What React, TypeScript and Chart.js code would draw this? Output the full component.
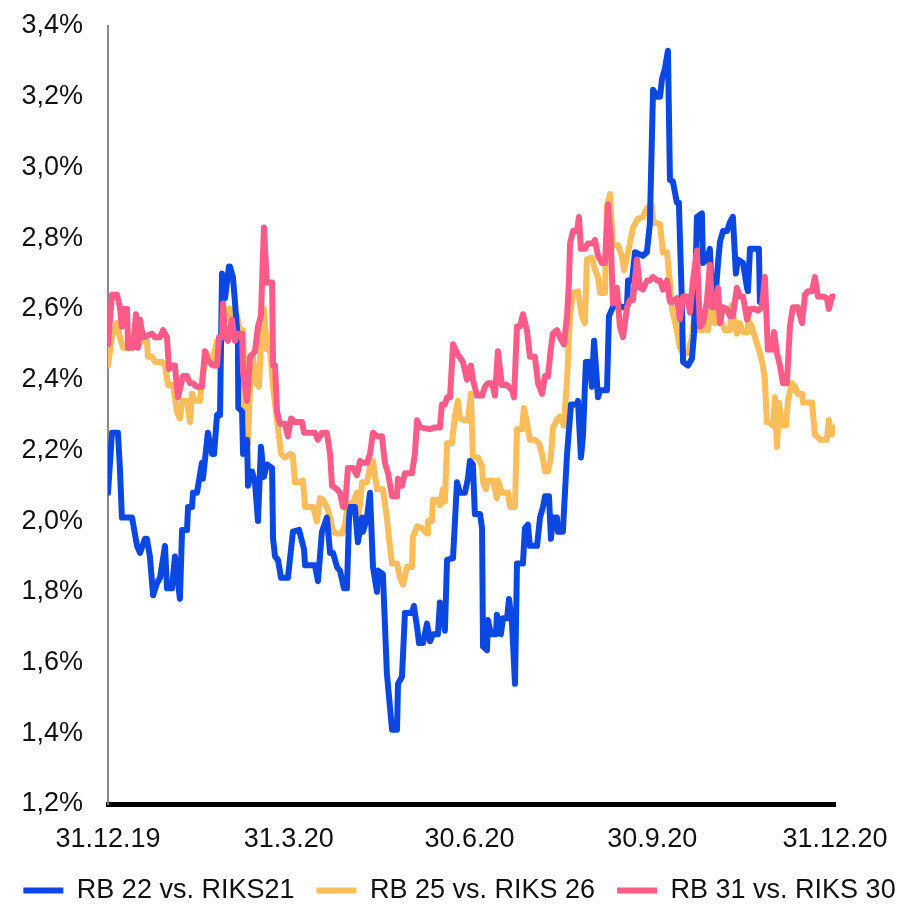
import React, { useEffect, useRef } from "react";
import { Chart, registerables } from "chart.js";

Chart.register(...registerables);

// x = days since 31.12.19, y = spread in %
const tickDays = [0, 91, 182, 274, 366];
const tickLabels = ["31.12.19", "31.3.20", "30.6.20", "30.9.20", "31.12.20"];
const yTicks = [1.2, 1.4, 1.6, 1.8, 2.0, 2.2, 2.4, 2.6, 2.8, 3.0, 3.2, 3.4];

const seriesNames = ["RB 22 vs. RIKS21", "RB 25 vs. RIKS 26", "RB 31 vs. RIKS 30"];
const seriesColors = ["#0b48e2", "#fcbd5a", "#ff5b89"];

const rb22 = [
  [0, 2.08], [2.0, 2.25], [5.0, 2.25], [6.0, 2.15], [7.0, 2.01], [12.1, 2.01], [14.6, 1.93], [16.1, 1.91],
  [18.6, 1.95], [19.6, 1.95], [21.1, 1.9], [22.7, 1.79], [24.7, 1.825], [26.2, 1.84], [28.7, 1.93], [29.7, 1.81],
  [32.2, 1.81], [33.7, 1.9], [36.2, 1.78], [37.3, 1.975], [39.8, 1.975], [40.3, 2.04], [42.3, 2.04], [42.8, 2.08],
  [44.8, 2.08], [47.3, 2.165], [47.8, 2.12], [50.3, 2.25], [52.4, 2.19], [53.4, 2.19], [54.9, 2.3], [56.4, 2.3],
  [57.4, 2.7], [58.9, 2.63], [60.9, 2.72], [61.4, 2.72], [62.9, 2.69], [63.9, 2.62], [65.4, 2.51], [65.6, 2.32],
  [67.5, 2.31], [68.0, 2.19], [70.0, 2.23], [70.5, 2.1], [72.5, 2.14], [74.0, 2.11], [75.5, 2.0], [77.0, 2.21],
  [78.5, 2.125], [80.0, 2.16], [82.6, 2.15], [83.1, 1.95], [84.1, 1.9], [85.6, 1.89], [87.1, 1.84], [90.6, 1.84],
  [93.1, 1.97], [96.2, 1.975], [98.7, 1.92], [99.2, 1.875], [104.2, 1.875], [105.7, 1.83], [107.7, 1.97],
  [110.2, 2.01], [111.8, 1.91], [113.3, 1.91], [115.3, 1.87], [116.8, 1.86], [118.8, 1.81], [120.3, 1.81],
  [121.3, 2.0], [121.8, 2.04], [124.3, 2.04], [125.8, 1.94], [127.9, 2.01], [128.4, 1.97], [130.4, 2.01],
  [131.9, 2.08], [133.4, 1.87], [135.4, 1.8], [135.9, 1.86], [138.4, 1.85], [140.4, 1.57], [143.0, 1.41],
  [145.5, 1.41], [146.0, 1.54], [148.0, 1.56], [149.5, 1.74], [153.0, 1.74], [154.0, 1.76], [155.6, 1.7],
  [156.6, 1.655], [158.6, 1.655], [160.6, 1.71], [162.1, 1.66], [163.6, 1.68], [166.1, 1.68], [167.1, 1.77],
  [168.6, 1.74], [169.6, 1.69], [170.7, 1.89], [173.7, 1.895], [175.7, 2.11], [177.2, 2.08], [179.7, 2.08],
  [181.2, 2.12], [182.2, 2.17], [183.7, 2.16], [184.7, 2.02], [187.3, 2.02], [188.3, 1.98], [188.8, 1.645],
  [190.8, 1.635], [191.3, 1.72], [192.8, 1.68], [195.3, 1.68], [195.8, 1.735], [197.8, 1.68], [198.8, 1.725],
  [200.9, 1.725], [201.9, 1.78], [203.4, 1.71], [204.9, 1.54], [205.9, 1.88], [208.9, 1.88], [209.9, 1.98],
  [211.4, 1.99], [212.4, 1.93], [216.0, 1.93], [217.5, 2.01], [219.0, 2.04], [220.0, 2.07], [222.0, 2.07],
  [223.0, 1.95], [224.0, 2.01], [226.0, 2.01], [226.5, 1.97], [229.0, 1.97], [231.1, 2.19], [233.1, 2.33],
  [236.1, 2.33], [236.6, 2.34], [238.1, 2.18], [239.1, 2.24], [240.6, 2.45], [242.6, 2.45], [243.6, 2.38],
  [244.7, 2.51], [246.7, 2.35], [247.7, 2.37], [251.2, 2.37], [252.2, 2.58], [254.2, 2.605], [256.2, 2.61],
  [259.3, 2.605], [261.3, 2.61], [261.8, 2.68], [263.8, 2.68], [265.3, 2.76], [269.3, 2.75], [271.3, 2.76],
  [272.8, 2.84], [274.4, 3.22], [276.4, 3.2], [277.9, 3.2], [278.9, 3.25], [280.4, 3.28], [281.9, 3.33],
  [282.9, 2.965], [284.4, 2.96], [286.4, 2.9], [287.4, 2.9], [288.9, 2.625], [289.5, 2.45], [292.0, 2.44],
  [294.0, 2.46], [295.0, 2.53], [296.5, 2.86], [299.0, 2.87], [299.5, 2.73], [301.5, 2.74], [303.0, 2.77],
  [304.1, 2.63], [305.6, 2.62], [307.1, 2.73], [308.1, 2.79], [309.6, 2.82], [311.6, 2.82], [313.1, 2.845],
  [314.6, 2.86], [316.1, 2.7], [317.1, 2.74], [319.7, 2.73], [321.7, 2.66], [322.2, 2.65], [323.2, 2.77],
  [327.7, 2.77], [328.2, 2.62]
];

const rb25 = [
  [0, 2.44], [2.0, 2.52], [4.5, 2.56], [6.0, 2.52], [7.6, 2.49], [11.1, 2.49], [12.6, 2.53], [14.6, 2.5],
  [17.6, 2.51], [19.6, 2.51], [20.1, 2.465], [22.1, 2.465], [23.7, 2.45], [27.2, 2.45], [28.7, 2.44], [30.2, 2.385],
  [32.7, 2.385], [34.7, 2.31], [36.2, 2.29], [37.3, 2.34], [39.8, 2.34], [41.3, 2.28], [42.3, 2.36], [43.8, 2.34],
  [46.3, 2.34], [47.8, 2.42], [49.8, 2.475], [52.4, 2.445], [54.9, 2.51], [57.4, 2.52], [58.9, 2.6], [59.9, 2.57],
  [61.4, 2.6], [62.9, 2.56], [64.9, 2.58], [66.4, 2.54], [68.0, 2.54], [69.0, 2.32], [70.5, 2.22], [72.0, 2.465],
  [73.0, 2.465], [74.5, 2.39], [76.0, 2.38], [77.0, 2.5], [78.5, 2.6], [80.0, 2.485], [81.6, 2.485], [83.1, 2.38],
  [84.6, 2.305], [85.6, 2.265], [87.1, 2.19], [89.1, 2.18], [90.6, 2.185], [91.6, 2.19], [93.1, 2.185], [94.1, 2.11],
  [96.7, 2.11], [98.2, 2.115], [99.2, 2.04], [103.2, 2.04], [105.2, 2.0], [106.7, 2.065], [108.2, 2.06],
  [110.2, 2.04], [111.8, 2.01], [113.3, 1.97], [115.3, 1.965], [117.8, 1.965], [119.3, 1.99], [120.8, 2.05],
  [123.3, 2.05], [125.3, 2.08], [125.8, 2.01], [126.9, 2.05], [127.9, 2.11], [130.4, 2.11], [131.9, 2.155],
  [133.4, 2.17], [135.4, 2.09], [138.4, 2.09], [140.4, 2.01], [141.5, 1.95], [143.0, 1.88], [145.5, 1.88],
  [147.0, 1.84], [148.5, 1.82], [150.5, 1.87], [153.0, 1.87], [153.5, 1.955], [155.6, 1.985], [158.1, 1.98],
  [160.6, 1.965], [161.1, 2.0], [163.1, 2.0], [163.6, 2.06], [166.1, 2.06], [167.1, 2.045], [168.6, 2.09],
  [169.6, 2.055], [170.7, 2.22], [173.2, 2.22], [174.7, 2.3], [176.2, 2.34], [177.2, 2.29], [179.7, 2.285],
  [181.2, 2.285], [182.7, 2.36], [183.7, 2.18], [186.3, 2.18], [188.3, 2.155], [188.8, 2.11], [190.3, 2.09],
  [191.3, 2.115], [193.8, 2.115], [195.8, 2.065], [196.3, 2.115], [198.3, 2.08], [201.4, 2.08], [202.4, 2.04],
  [204.9, 2.04], [205.9, 2.26], [208.4, 2.26], [209.4, 2.32], [210.9, 2.28], [212.4, 2.23], [214.9, 2.23],
  [217.0, 2.22], [218.5, 2.19], [220.0, 2.14], [221.5, 2.14], [223.0, 2.18], [224.0, 2.265], [226.0, 2.285],
  [227.5, 2.295], [229.5, 2.27], [231.1, 2.4], [232.6, 2.58], [234.1, 2.645], [236.6, 2.65], [238.6, 2.58],
  [240.1, 2.56], [241.1, 2.74], [243.6, 2.745], [245.2, 2.71], [246.7, 2.69], [247.7, 2.645], [250.2, 2.645],
  [251.2, 2.89], [252.7, 2.925], [254.2, 2.78], [256.7, 2.78], [258.7, 2.75], [259.8, 2.71], [261.8, 2.76],
  [264.3, 2.83], [266.8, 2.855], [269.3, 2.86], [271.3, 2.885], [273.9, 2.89], [274.4, 2.845], [277.9, 2.84],
  [279.4, 2.76], [281.4, 2.76], [282.9, 2.675], [283.9, 2.6], [286.4, 2.54], [287.9, 2.49], [289.5, 2.475],
  [292.0, 2.475], [294.0, 2.52], [295.5, 2.605], [296.5, 2.625], [298.0, 2.54], [299.5, 2.54], [301.5, 2.59],
  [302.0, 2.54], [304.1, 2.6], [305.6, 2.56], [307.1, 2.59], [309.1, 2.56], [310.6, 2.54], [313.1, 2.54],
  [314.1, 2.61], [315.6, 2.55], [316.6, 2.53], [318.1, 2.56], [319.7, 2.535], [321.7, 2.535], [322.2, 2.57],
  [324.2, 2.55], [325.7, 2.52], [328.2, 2.475], [329.7, 2.44], [330.7, 2.4], [331.7, 2.28], [333.2, 2.28],
  [334.8, 2.27], [335.8, 2.35], [336.8, 2.21], [337.8, 2.335], [339.3, 2.27], [341.3, 2.27], [342.3, 2.34],
  [344.3, 2.39], [345.8, 2.38], [347.3, 2.36], [349.4, 2.36], [349.9, 2.335], [354.4, 2.335], [355.9, 2.245],
  [358.4, 2.23], [361.9, 2.23], [362.9, 2.285], [364.5, 2.245], [366, 2.265]
];

const rb31 = [
  [0, 2.5], [2.0, 2.64], [4.5, 2.64], [6.0, 2.605], [7.0, 2.55], [8.1, 2.6], [9.6, 2.6], [10.1, 2.49],
  [12.6, 2.49], [14.1, 2.585], [15.1, 2.49], [16.1, 2.57], [17.6, 2.52], [20.1, 2.525], [22.1, 2.53], [23.7, 2.52],
  [26.2, 2.52], [27.7, 2.54], [29.7, 2.52], [30.7, 2.43], [32.2, 2.44], [33.7, 2.44], [35.2, 2.35], [36.7, 2.385],
  [37.8, 2.41], [39.8, 2.41], [41.3, 2.39], [42.8, 2.39], [44.8, 2.38], [47.3, 2.38], [48.8, 2.48], [50.3, 2.455],
  [52.9, 2.44], [54.9, 2.44], [55.9, 2.52], [57.4, 2.52], [57.9, 2.615], [58.9, 2.52], [60.4, 2.51], [62.4, 2.57],
  [63.9, 2.51], [65.4, 2.53], [67.5, 2.53], [68.0, 2.42], [70.0, 2.34], [71.5, 2.465], [72.5, 2.47], [74.0, 2.48],
  [75.5, 2.55], [77.0, 2.58], [78.5, 2.83], [80.0, 2.675], [82.6, 2.675], [83.1, 2.44], [84.1, 2.44], [85.1, 2.31],
  [86.6, 2.275], [89.1, 2.275], [90.6, 2.24], [92.1, 2.29], [94.1, 2.28], [97.7, 2.28], [98.7, 2.25], [104.2, 2.25],
  [105.7, 2.23], [107.7, 2.25], [110.2, 2.25], [111.8, 2.19], [112.8, 2.1], [115.3, 2.09], [116.8, 2.08],
  [118.3, 2.04], [119.3, 2.04], [120.8, 2.15], [123.3, 2.15], [125.3, 2.13], [126.9, 2.17], [128.4, 2.165],
  [130.4, 2.165], [131.9, 2.19], [133.4, 2.25], [135.4, 2.24], [137.9, 2.24], [139.4, 2.165], [141.0, 2.135],
  [143.0, 2.07], [145.5, 2.07], [146.0, 2.12], [148.0, 2.1], [149.5, 2.135], [153.0, 2.135], [154.5, 2.19],
  [155.6, 2.285], [157.1, 2.265], [162.1, 2.26], [164.6, 2.265], [167.1, 2.265], [168.1, 2.33], [169.6, 2.33],
  [170.7, 2.35], [172.2, 2.35], [173.7, 2.5], [176.2, 2.47], [178.7, 2.45], [180.7, 2.4], [181.2, 2.42],
  [182.7, 2.44], [183.7, 2.4], [185.8, 2.355], [188.3, 2.355], [189.8, 2.38], [191.3, 2.39], [193.3, 2.39],
  [194.8, 2.355], [196.3, 2.48], [198.3, 2.385], [200.9, 2.385], [203.4, 2.37], [204.4, 2.35], [205.9, 2.55],
  [207.4, 2.55], [208.9, 2.585], [210.9, 2.54], [212.4, 2.465], [214.9, 2.465], [216.5, 2.39], [218.5, 2.36],
  [220.0, 2.41], [221.5, 2.41], [223.0, 2.49], [224.0, 2.53], [226.0, 2.54], [227.5, 2.52], [229.5, 2.5],
  [231.1, 2.58], [232.1, 2.68], [232.6, 2.785], [234.1, 2.82], [236.1, 2.82], [237.1, 2.86], [238.1, 2.77],
  [240.1, 2.77], [241.6, 2.785], [244.1, 2.785], [245.2, 2.795], [246.7, 2.75], [248.7, 2.73], [250.2, 2.73],
  [251.7, 2.895], [253.2, 2.785], [254.2, 2.615], [256.2, 2.66], [257.7, 2.55], [259.3, 2.52], [261.3, 2.605],
  [262.8, 2.625], [264.3, 2.625], [266.3, 2.74], [267.8, 2.66], [269.3, 2.655], [271.3, 2.68], [272.8, 2.68],
  [274.4, 2.69], [276.4, 2.68], [277.9, 2.68], [279.4, 2.655], [281.4, 2.68], [282.9, 2.62], [284.4, 2.62],
  [286.4, 2.63], [287.9, 2.57], [289.5, 2.635], [291.5, 2.635], [293.0, 2.59], [294.5, 2.68], [296.5, 2.765],
  [298.0, 2.55], [299.5, 2.56], [301.5, 2.62], [303.0, 2.725], [304.1, 2.605], [305.6, 2.605], [307.1, 2.66],
  [308.1, 2.56], [309.6, 2.605], [311.6, 2.6], [313.1, 2.58], [314.6, 2.58], [316.6, 2.66], [318.1, 2.635],
  [319.7, 2.635], [321.7, 2.57], [323.2, 2.6], [325.7, 2.6], [327.2, 2.595], [329.2, 2.605], [330.7, 2.69],
  [332.2, 2.485], [334.3, 2.485], [335.3, 2.535], [336.8, 2.475], [338.3, 2.44], [339.8, 2.39], [341.8, 2.39],
  [343.3, 2.55], [344.8, 2.605], [347.3, 2.605], [349.4, 2.56], [350.9, 2.64], [352.4, 2.65], [354.4, 2.65],
  [355.9, 2.69], [357.4, 2.635], [359.9, 2.635], [361.9, 2.63], [362.9, 2.6], [364.5, 2.635], [366, 2.635]
];

const allSeries = [rb22, rb25, rb31];
const drawOrder = [1, 2, 0]; // lower = drawn on top

const FONT = "'Liberation Sans', Arial, Helvetica, sans-serif";

export default function App() {
  const canvasRef = useRef<HTMLCanvasElement | null>(null);

  useEffect(() => {
    const canvas = canvasRef.current;
    if (!canvas) return;
    const chart = new Chart(canvas, {
      type: "line",
      data: {
        datasets: allSeries.map((s, i) => ({
          label: seriesNames[i],
          data: s.map(([d, v]) => ({ x: d, y: v })),
          borderColor: seriesColors[i],
          backgroundColor: seriesColors[i],
          borderWidth: 6,
          pointRadius: 0,
          tension: 0,
          borderJoinStyle: "round" as const,
          borderCapStyle: "round" as const,
          order: drawOrder[i],
        })),
      },
      options: {
        animation: false,
        responsive: false,
        devicePixelRatio: 1,
        layout: { padding: { top: 26, right: 0, left: 0, bottom: -6 } },
        plugins: {
          tooltip: { enabled: false },
          legend: {
            position: "bottom",
            labels: {
              usePointStyle: true,
              pointStyle: "line",
              pointStyleWidth: 40,
              padding: 22,
              color: "#111",
              font: { family: FONT, size: 27 },
              sort: (a: any, b: any) => a.datasetIndex - b.datasetIndex,
            },
          },
        },
        scales: {
          x: {
            type: "linear",
            min: tickDays[0],
            max: tickDays[tickDays.length - 1],
            grid: { display: false, drawTicks: false },
            border: { display: true, color: "#000", width: 5 },
            afterBuildTicks: (axis: any) => {
              axis.ticks = tickDays.map((v) => ({ value: v }));
            },
            afterFit: (axis: any) => {
              axis.height = 51;
            },
            ticks: {
              autoSkip: false,
              maxRotation: 0,
              padding: 19,
              color: "#111",
              font: { family: FONT, size: 27 },
              callback: (v: any) => {
                const idx = tickDays.indexOf(Number(v));
                return idx >= 0 ? tickLabels[idx] : "";
              },
            },
          },
          y: {
            type: "linear",
            position: "left",
            min: yTicks[0],
            max: yTicks[yTicks.length - 1],
            grid: { display: false, drawTicks: false },
            border: { display: true, color: "#8a8a8a", width: 2 },
            afterBuildTicks: (axis: any) => {
              axis.ticks = yTicks.map((v) => ({ value: v }));
            },
            afterFit: (axis: any) => {
              axis.width = 108;
              axis.paddingTop = 16;
              axis.paddingBottom = 16;
            },
            ticks: {
              padding: 25,
              color: "#111",
              font: { family: FONT, size: 27 },
              callback: (v: any) => Number(v).toFixed(1).replace(".", ",") + "%",
            },
          },
          yRight: {
            type: "linear",
            position: "right",
            display: true,
            grid: { display: false, drawTicks: false },
            border: { display: false },
            ticks: { display: false },
            afterFit: (axis: any) => {
              axis.width = 84;
            },
          },
        },
      },
    });
    return () => chart.destroy();
  }, []);

  return (
    <div style={{ position: "fixed", left: 0, top: 0, width: 919, height: 908, background: "#fff" }}>
      <canvas ref={canvasRef} width={919} height={908} style={{ display: "block" }} />
    </div>
  );
}
